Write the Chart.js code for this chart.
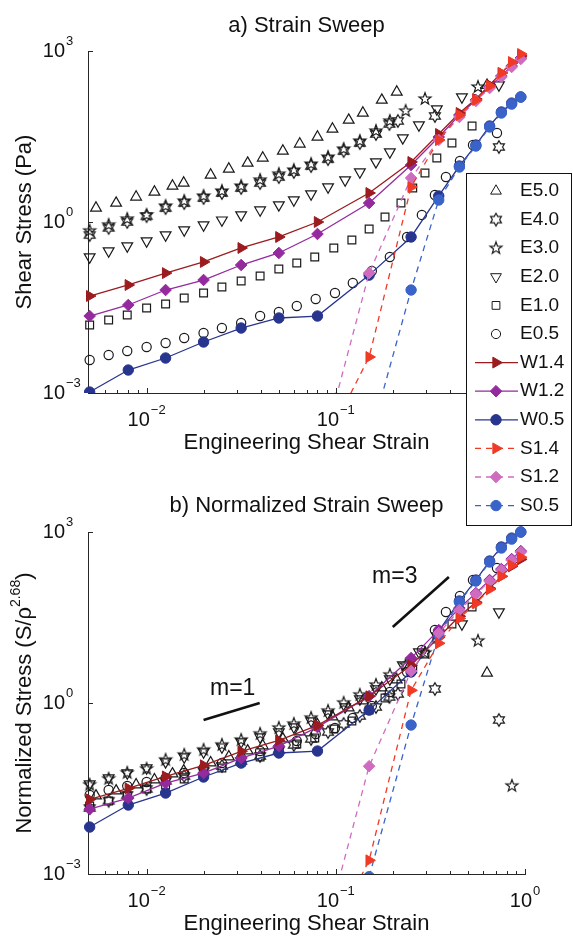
<!DOCTYPE html>
<html>
<head>
<meta charset="utf-8">
<script src="https://cdn.jsdelivr.net/npm/chart.js@4.4.0/dist/chart.umd.min.js"></script>
<style>
  html, body { margin: 0; padding: 0; background: #fff; }
  #wrap { position: relative; width: 573px; height: 937px; overflow: hidden; }
  canvas { position: absolute; left: 0; }
  #topChart { top: 0; }
  #bottomChart { top: 480px; }
</style>
</head>
<body>
<div id="wrap">
  <canvas id="topChart" width="573" height="530"></canvas>
  <canvas id="bottomChart" width="573" height="457"></canvas>
</div>
<script>
// series names and their density (used for S/rho^2.68 in panel b)
const seriesNames = ['E5.0', 'E4.0', 'E3.0', 'E2.0', 'E1.0', 'E0.5', 'W1.4', 'W1.2', 'W0.5', 'S1.4', 'S1.2', 'S0.5'];
const seriesRho = [5.0, 4.0, 3.0, 2.0, 1.0, 0.5, 1.4, 1.2, 0.5, 1.4, 1.2, 0.5];
const normExponent = 2.68;

// panel a) values: engineering shear strain and shear stress (Pa)
const e50Strain = [0.0054, 0.0069, 0.0088, 0.011, 0.0137, 0.0157, 0.0218, 0.0272, 0.0342, 0.0411, 0.0525, 0.0645, 0.080, 0.096, 0.117, 0.139, 0.175, 0.21, 0.63];
const e50Stress = [1.76, 2.15, 2.75, 3.36, 4.28, 4.83, 6.68, 8.51, 10.8, 13.3, 17.6, 23.4, 31.0, 42.8, 61.5, 81.7, 138, 191, 251];

const e40Strain = [0.005, 0.0063, 0.0079, 0.01, 0.0126, 0.0158, 0.02, 0.025, 0.0316, 0.0398, 0.05, 0.060, 0.074, 0.091, 0.110, 0.134, 0.163, 0.192, 0.213, 0.334, 0.728];
const e40Stress = [0.59, 0.79, 1.0, 1.27, 1.76, 2.15, 2.64, 3.23, 3.95, 4.83, 6.15, 7.54, 9.6, 12.7, 17.6, 24.3, 35.0, 52.4, 59.2, 72.4, 20.7];

const e30Strain = [0.005, 0.0063, 0.0079, 0.01, 0.0126, 0.0158, 0.02, 0.025, 0.0316, 0.0398, 0.05, 0.060, 0.074, 0.091, 0.110, 0.134, 0.163, 0.193, 0.234, 0.296, 0.564, 0.853];
const e30Stress = [0.70, 0.89, 1.13, 1.33, 1.91, 2.34, 2.86, 3.50, 4.28, 5.46, 6.95, 8.17, 10.4, 13.8, 19.1, 26.4, 39.5, 59.2, 88.6, 144, 234, 0.668];

const e20Strain = [0.005, 0.0063, 0.0079, 0.01, 0.0126, 0.0158, 0.02, 0.025, 0.0316, 0.0398, 0.05, 0.060, 0.074, 0.091, 0.112, 0.134, 0.163, 0.193, 0.226, 0.275, 0.342, 0.464, 0.728];
const e20Stress = [0.243, 0.310, 0.379, 0.464, 0.592, 0.724, 0.886, 1.08, 1.33, 1.62, 1.99, 2.43, 3.10, 4.11, 5.46, 7.54, 11.3, 16.9, 29.8, 50.3, 96.0, 156, 253];

const e10Strain = [0.005, 0.0063, 0.0079, 0.01, 0.0126, 0.0158, 0.02, 0.025, 0.0316, 0.0398, 0.05, 0.0622, 0.0774, 0.0976, 0.1216, 0.150, 0.182, 0.221, 0.255, 0.296, 0.342, 0.411, 0.525];
const e10Stress = [0.0156, 0.0191, 0.0233, 0.031, 0.0364, 0.0464, 0.0568, 0.0724, 0.0922, 0.113, 0.150, 0.191, 0.243, 0.350, 0.483, 0.754, 1.22, 2.15, 3.95, 7.24, 13.3, 24.3, 48.3];

const e05Strain = [0.005, 0.0063, 0.0079, 0.01, 0.0126, 0.0158, 0.02, 0.025, 0.0316, 0.0398, 0.05, 0.0622, 0.0783, 0.099, 0.123, 0.155, 0.193, 0.238, 0.285, 0.334, 0.382, 0.453, 0.531, 0.711];
const e05Stress = [0.00379, 0.00464, 0.00546, 0.00641, 0.00754, 0.00923, 0.0113, 0.0138, 0.0169, 0.0224, 0.0264, 0.0336, 0.0446, 0.0568, 0.0851, 0.138, 0.243, 0.546, 1.33, 2.98, 6.15, 11.8, 22.4, 36.4];

const wStrain = [0.005, 0.008, 0.0126, 0.02, 0.0316, 0.05, 0.08, 0.15, 0.25, 0.35, 0.45, 0.55, 0.65, 0.75, 0.85, 0.95];
const w14Stress = [0.0503, 0.0785, 0.127, 0.199, 0.350, 0.546, 1.0, 3.23, 11.3, 35.0, 81.7, 144, 253, 411, 616, 817];
const w12Stress = [0.0224, 0.0350, 0.0641, 0.096, 0.176, 0.286, 0.616, 2.15, 10.0, 31.0, 75.4, 138, 234, 364, 546, 754];
const w05Stress = [0.00104, 0.00253, 0.00411, 0.00785, 0.0138, 0.0207, 0.0224, 0.117, 0.546, 2.86, 9.60, 22.4, 48.3, 85.1, 122, 156];

const sStrain = [0.1, 0.15, 0.25, 0.35, 0.45, 0.55, 0.65, 0.75, 0.85, 0.95];
const s14Stress = [0.0003, 0.00428, 4.11, 27.5, 75.0, 138, 243, 411, 641, 886];
const s12Stress = [0.0008, 0.127, 5.92, 27.5, 69.5, 133, 224, 350, 524, 724];
const s05Strain = [0.15, 0.25, 0.35, 0.45, 0.55, 0.65, 0.75, 0.85, 0.95];
const s05Stress = [0.00014, 0.0641, 2.43, 9.22, 21.5, 46.4, 81.7, 117, 156];

// slope guides in panel b)
const slope1Strain = [0.02, 0.0396];
const slope1Stress = [0.503, 1.0];
const slope3Strain = [0.2, 0.396];
const slope3Stress = [21.5, 162];

// axis ticks
const xTickValues = [0.01, 0.1, 1];
const xTickExps = ['\u22122', '\u22121', '0'];
const yTickValues = [1e-3, 1, 1e3];
const yTickExps = ['\u22123', '0', '3'];
const xMinorTicks = [0.006, 0.007, 0.008, 0.009, 0.02, 0.03, 0.04, 0.05, 0.06, 0.07, 0.08, 0.09,
                     0.2, 0.3, 0.4, 0.5, 0.6, 0.7, 0.8, 0.9];

const seriesData = [
  [e50Strain, e50Stress], [e40Strain, e40Stress], [e30Strain, e30Stress],
  [e20Strain, e20Stress], [e10Strain, e10Stress], [e05Strain, e05Stress],
  [wStrain, w14Stress], [wStrain, w12Stress], [wStrain, w05Stress],
  [sStrain, s14Stress], [sStrain, s12Stress], [s05Strain, s05Stress]
];

const FONT = '"Liberation Sans", Arial, Helvetica, sans-serif';
const AXIS = '#262626';

// star markers (MATLAB pentagram / hexagram)
function starCanvas(points, rOut, rIn) {
  const size = Math.ceil(rOut * 2 + 3);
  const c = document.createElement('canvas');
  c.width = size; c.height = size;
  const g = c.getContext('2d');
  g.translate(size / 2, size / 2);
  g.beginPath();
  for (let i = 0; i < points * 2; i++) {
    const r = i % 2 ? rIn : rOut;
    const a = -Math.PI / 2 + i * Math.PI / points;
    g.lineTo(r * Math.cos(a), r * Math.sin(a));
  }
  g.closePath();
  g.strokeStyle = '#1a1a1a';
  g.lineWidth = 1.2;
  g.stroke();
  return c;
}
const pentagram = starCanvas(5, 6.3, 2.6);
const hexagram = starCanvas(6, 6.3, 3.6);

const open = 'rgba(0,0,0,0)';
const seriesStyle = [
  { marker: 'triangle', rot: 0, r: 6.2, color: '#1a1a1a', fill: open, line: 'none', order: 3 },
  { marker: hexagram, rot: 0, r: 6, color: '#1a1a1a', fill: open, line: 'none', order: 3 },
  { marker: pentagram, rot: 0, r: 6, color: '#1a1a1a', fill: open, line: 'none', order: 3 },
  { marker: 'triangle', rot: 180, r: 6.2, color: '#1a1a1a', fill: open, line: 'none', order: 3 },
  { marker: 'rect', rot: 0, r: 5.5, color: '#1a1a1a', fill: open, line: 'none', order: 3 },
  { marker: 'circle', rot: 0, r: 4.6, color: '#1a1a1a', fill: open, line: 'none', order: 3 },
  { marker: 'triangle', rot: 90, r: 6.3, color: '#9b1b1e', fill: '#9b1b1e', line: 'solid', order: 2 },
  { marker: 'rectRot', rot: 0, r: 5.8, color: '#942a9e', fill: '#942a9e', line: 'solid', order: 2 },
  { marker: 'circle', rot: 0, r: 5.2, color: '#28358f', fill: '#28358f', line: 'solid', order: 2 },
  { marker: 'triangle', rot: 90, r: 6.3, color: '#f03a26', fill: '#f03a26', line: 'dash', order: 1 },
  { marker: 'rectRot', rot: 0, r: 5.8, color: '#cf6cc0', fill: '#cf6cc0', line: 'dash', order: 1 },
  { marker: 'circle', rot: 0, r: 5.2, color: '#3a63c9', fill: '#3a63c9', line: 'dash', order: 1 }
];

function buildDatasets(normalized) {
  return seriesData.map(function (pair, i) {
    const st = seriesStyle[i];
    const f = normalized ? Math.pow(seriesRho[i], normExponent) : 1;
    return {
      label: seriesNames[i],
      data: pair[0].map(function (x, k) { return { x: x, y: pair[1][k] / f }; }),
      showLine: st.line !== 'none',
      borderColor: st.color,
      backgroundColor: st.fill,
      borderWidth: 1.3,
      borderDash: st.line === 'dash' ? [6, 5] : [],
      pointStyle: st.marker,
      pointRadius: st.r,
      pointRotation: st.rot,
      pointBorderColor: st.color,
      pointBackgroundColor: st.fill,
      pointBorderWidth: st.line === 'none' ? 1.2 : 1,
      order: st.order,
      clip: { left: 10, top: 12, right: 12, bottom: 0 }
    };
  });
}

function slopeDataset(xs, ys) {
  return {
    label: '',
    data: xs.map(function (x, k) { return { x: x, y: ys[k] }; }),
    showLine: true,
    borderColor: '#111',
    borderWidth: 2.6,
    pointRadius: 0,
    order: 0,
    clip: false
  };
}

function powLabel(ctx, exp, x, y, centered) {
  ctx.font = '20px ' + FONT;
  const wb = ctx.measureText('10').width;
  ctx.font = '13px ' + FONT;
  const we = ctx.measureText(exp).width;
  const x0 = centered ? x - (wb + 1 + we) / 2 : x - wb;
  ctx.textAlign = 'left';
  ctx.textBaseline = 'middle';
  ctx.font = '20px ' + FONT;
  ctx.fillText('10', x0, y);
  ctx.font = '13px ' + FONT;
  ctx.fillText(exp, x0 + wb + 1, y - 9.5);
}

function drawMarker(ctx, st, x, y) {
  ctx.strokeStyle = st.color;
  ctx.fillStyle = st.fill;
  ctx.lineWidth = 1;
  ctx.setLineDash([]);
  Chart.helpers.drawPoint(ctx, { pointStyle: st.marker, rotation: st.rot, radius: st.r, borderWidth: 1 }, x, y);
}

const figurePlugin = {
  id: 'figure',
  afterDraw: function (chart, args, o) {
    const ctx = chart.ctx, a = chart.chartArea;
    const xs = chart.scales.x, ys = chart.scales.y;
    ctx.save();

    // inward tick marks
    ctx.strokeStyle = AXIS;
    ctx.lineWidth = 1;
    ctx.beginPath();
    xMinorTicks.forEach(function (v) {
      const px = Math.round(xs.getPixelForValue(v)) + 0.5;
      ctx.moveTo(px, a.bottom); ctx.lineTo(px, a.bottom - 3);
    });
    xTickValues.forEach(function (v) {
      const px = Math.round(xs.getPixelForValue(v)) + 0.5;
      ctx.moveTo(px, a.bottom); ctx.lineTo(px, a.bottom - 5);
    });
    yTickValues.forEach(function (v) {
      const py = Math.round(ys.getPixelForValue(v)) + 0.5;
      ctx.moveTo(a.left, py); ctx.lineTo(a.left + 5, py);
    });
    ctx.stroke();

    // tick labels
    ctx.fillStyle = '#111';
    xTickValues.forEach(function (v, i) {
      powLabel(ctx, xTickExps[i], xs.getPixelForValue(v), a.bottom + 27, true);
    });
    yTickValues.forEach(function (v, i) {
      powLabel(ctx, yTickExps[i], a.left - 23, ys.getPixelForValue(v), false);
    });

    // titles
    const cx = (a.left + a.right) / 2;
    ctx.textAlign = 'center';
    ctx.textBaseline = 'alphabetic';
    ctx.font = '22px ' + FONT;
    ctx.fillText(o.title, cx, o.titleY);
    ctx.fillText('Engineering Shear Strain', cx, a.bottom + 56);

    // y axis title (rotated, optional superscript)
    ctx.save();
    ctx.translate(o.yTitleX, (a.top + a.bottom) / 2);
    ctx.rotate(-Math.PI / 2);
    ctx.textBaseline = 'middle';
    ctx.textAlign = 'left';
    ctx.font = '22px ' + FONT;
    const w1 = ctx.measureText(o.yTitle[0]).width;
    const w3 = ctx.measureText(o.yTitle[2]).width;
    ctx.font = '14px ' + FONT;
    const w2 = ctx.measureText(o.yTitle[1]).width;
    let tx = -(w1 + w2 + w3) / 2;
    ctx.font = '22px ' + FONT;
    ctx.fillText(o.yTitle[0], tx, 0);
    ctx.font = '14px ' + FONT;
    ctx.fillText(o.yTitle[1], tx + w1, -9);
    ctx.font = '22px ' + FONT;
    ctx.fillText(o.yTitle[2], tx + w1 + w2, 0);
    ctx.restore();

    // slope labels
    ctx.textAlign = 'center';
    ctx.textBaseline = 'middle';
    ctx.font = '23px ' + FONT;
    (o.notes || []).forEach(function (n) {
      ctx.fillText(n.text, xs.getPixelForValue(n.x), ys.getPixelForValue(n.y));
    });

    // legend box
    if (o.legend) {
      const L = o.legend;
      ctx.fillStyle = '#fff';
      ctx.fillRect(L.left, L.top, L.width, L.height);
      ctx.strokeStyle = '#111';
      ctx.lineWidth = 1;
      ctx.setLineDash([]);
      ctx.strokeRect(L.left + 0.5, L.top + 0.5, L.width, L.height);
      seriesNames.forEach(function (name, i) {
        const st = seriesStyle[i];
        const y = L.firstY + i * L.step;
        if (st.line !== 'none') {
          ctx.strokeStyle = st.color;
          ctx.lineWidth = 1.3;
          ctx.setLineDash(st.line === 'dash' ? [6, 5] : []);
          ctx.beginPath();
          ctx.moveTo(L.left + 9, y);
          ctx.lineTo(L.left + 52, y);
          ctx.stroke();
        }
        drawMarker(ctx, st, L.left + 30, y);
        ctx.fillStyle = '#111';
        ctx.font = '19px ' + FONT;
        ctx.textAlign = 'left';
        ctx.textBaseline = 'middle';
        ctx.fillText(name, L.left + 54, y);
      });
    }
    ctx.restore();
  }
};

function makeChart(canvasId, datasets, padTop, padBottom, figOpts) {
  return new Chart(document.getElementById(canvasId), {
    type: 'scatter',
    data: { datasets: datasets },
    options: {
      responsive: false,
      animation: false,
      devicePixelRatio: 1,
      layout: { autoPadding: false, padding: { left: 0, right: 48, top: padTop, bottom: padBottom } },
      plugins: { legend: { display: false }, title: { display: false }, tooltip: { enabled: false }, figure: figOpts },
      scales: {
        x: {
          type: 'logarithmic', min: 0.0049, max: 1,
          ticks: { display: false },
          grid: { display: true, drawOnChartArea: false, drawTicks: false },
          border: { display: true, color: AXIS, width: 1 },
          afterFit: function (s) { s.height = 40; }
        },
        y: {
          type: 'logarithmic', min: 1e-3, max: 1e3,
          ticks: { display: false },
          grid: { display: true, drawOnChartArea: false, drawTicks: false },
          border: { display: true, color: AXIS, width: 1 },
          afterFit: function (s) { s.width = 88; }
        }
      }
    },
    plugins: [figurePlugin]
  });
}

// panel a) area 88..525 x 51..393 ; canvas 573x530
makeChart('topChart', buildDatasets(false), 51, 97, {
  title: 'a) Strain Sweep', titleY: 32, yTitleX: 25,
  yTitle: ['Shear Stress (Pa)', '', ''],
  legend: { left: 466, top: 173, width: 105, height: 352, firstY: 191, step: 28.6 }
});

// panel b) area 88..525 x 532..874 ; canvas starts at y=480
const normSets = buildDatasets(true);
normSets.push(slopeDataset(slope1Strain, slope1Stress));
normSets.push(slopeDataset(slope3Strain, slope3Stress));
makeChart('bottomChart', normSets, 52, 23, {
  title: 'b) Normalized Strain Sweep', titleY: 32, yTitleX: 25,
  yTitle: ['Normalized Stress (S/\u03c1', '2.68', ')'],
  notes: [{ text: 'm=1', x: 0.0285, y: 1.76 }, { text: 'm=3', x: 0.205, y: 162 }]
});
</script>
</body>
</html>
